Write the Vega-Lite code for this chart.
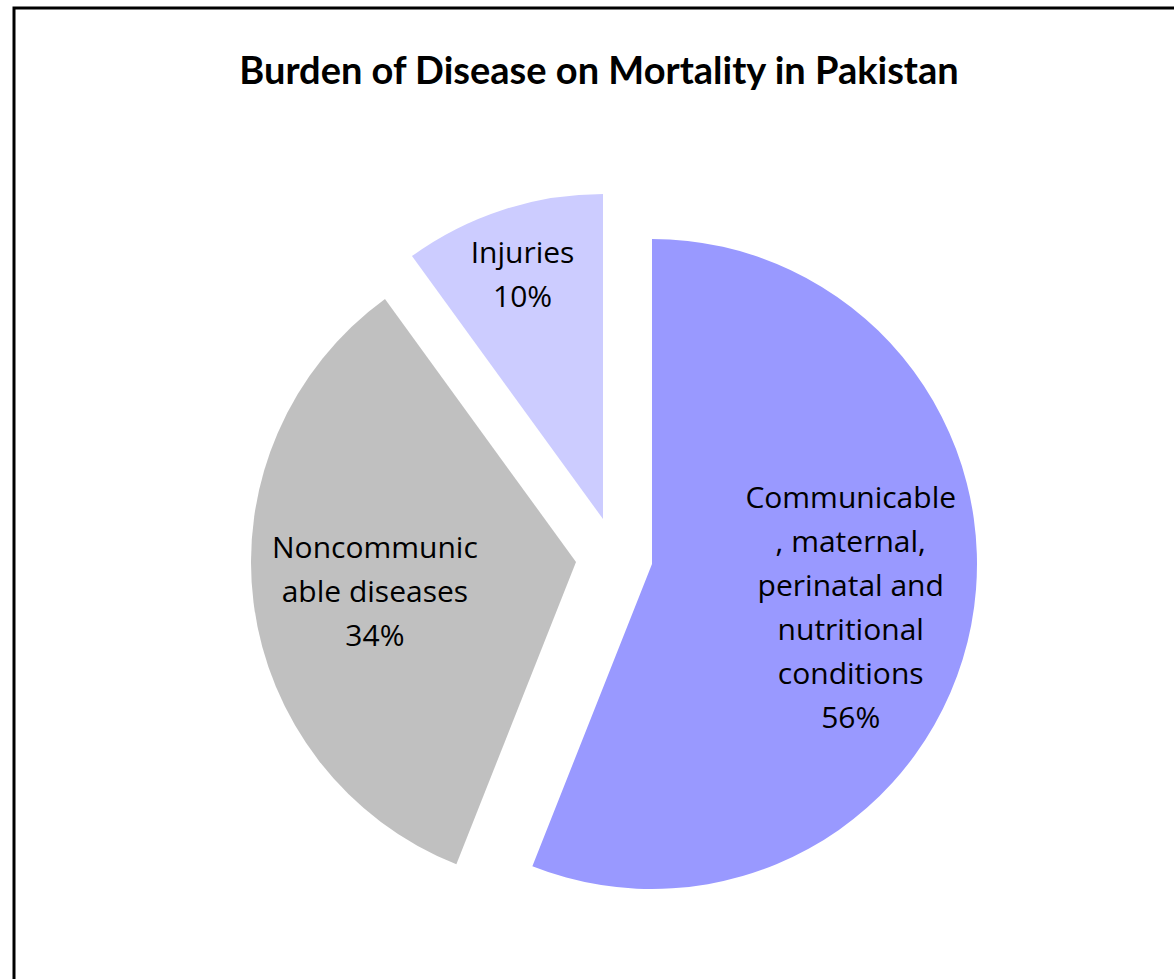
{
  "$schema": "https://vega.github.io/schema/vega-lite/v6.json",
  "width": 1200,
  "height": 1098,
  "autosize": {"type": "none"},
  "padding": {"left": 14, "top": 8, "right": -40, "bottom": -127},
  "view": {"stroke": "#000000", "strokeWidth": 3},
  "title": {
    "text": "Burden of Disease on Mortality in Pakistan",
    "orient": "top",
    "anchor": "middle",
    "frame": "group",
    "dx": -15,
    "offset": -114,
    "baseline": "alphabetic",
    "font": "Lato",
    "fontSize": 38,
    "fontWeight": "bold",
    "color": "#000000"
  },
  "data": {
    "values": [
      {"category": "Communicable, maternal, perinatal and nutritional conditions", "value": 56, "label": "Communicable\n, maternal,\nperinatal and\nnutritional\nconditions\n56%"},
      {"category": "Noncommunicable diseases", "value": 34, "label": "Noncommunic\nable diseases\n34%"},
      {"category": "Injuries", "value": 10, "label": "Injuries\n10%"}
    ]
  },
  "transform": [
    {"stack": "value", "groupby": [], "sort": [{"field": "value", "order": "descending"}], "as": ["t0", "t1"]},
    {"calculate": "(datum.t0 + datum.t1) / 2", "as": "mid"}
  ],
  "layer": [
    {
      "transform": [{"filter": "datum.category === 'Communicable, maternal, perinatal and nutritional conditions'"}],
      "mark": {"type": "arc", "outerRadius": 325, "xOffset": 38, "yOffset": 7, "stroke": null},
      "encoding": {
        "theta": {"field": "t0", "type": "quantitative", "scale": {"domain": [0, 100], "range": [0, 6.283185307179586]}},
        "theta2": {"field": "t1"},
        "color": {"field": "category", "type": "nominal", "legend": null,
          "scale": {"domain": ["Communicable, maternal, perinatal and nutritional conditions", "Noncommunicable diseases", "Injuries"], "range": ["#9999FF", "#C0C0C0", "#CCCCFF"]}}
      }
    },
    {
      "transform": [{"filter": "datum.category === 'Noncommunicable diseases'"}],
      "mark": {"type": "arc", "outerRadius": 325, "xOffset": -38, "yOffset": 5, "stroke": null},
      "encoding": {
        "theta": {"field": "t0", "type": "quantitative"},
        "theta2": {"field": "t1"},
        "color": {"field": "category", "type": "nominal", "legend": null}
      }
    },
    {
      "transform": [{"filter": "datum.category === 'Injuries'"}],
      "mark": {"type": "arc", "outerRadius": 325, "xOffset": -11, "yOffset": -38, "stroke": null},
      "encoding": {
        "theta": {"field": "t0", "type": "quantitative"},
        "theta2": {"field": "t1"},
        "color": {"field": "category", "type": "nominal", "legend": null}
      }
    },
    {
      "transform": [{"filter": "datum.category === 'Communicable, maternal, perinatal and nutritional conditions'"}],
      "mark": {"type": "text", "radius": 241, "dy": -103, "lineBreak": "\n", "lineHeight": 44, "align": "center", "baseline": "middle", "font": "Open Sans", "fontSize": 30, "color": "#000000"},
      "encoding": {
        "theta": {"field": "mid", "type": "quantitative"},
        "text": {"field": "label"}
      }
    },
    {
      "transform": [{"filter": "datum.category === 'Noncommunicable diseases'"}],
      "mark": {"type": "text", "radius": 241, "dy": -38, "lineBreak": "\n", "lineHeight": 44, "align": "center", "baseline": "middle", "font": "Open Sans", "fontSize": 30, "color": "#000000"},
      "encoding": {
        "theta": {"field": "mid", "type": "quantitative"},
        "text": {"field": "label"}
      }
    },
    {
      "transform": [{"filter": "datum.category === 'Injuries'"}],
      "mark": {"type": "text", "radius": 296, "dy": -21, "lineBreak": "\n", "lineHeight": 44, "align": "center", "baseline": "middle", "font": "Open Sans", "fontSize": 30, "color": "#000000"},
      "encoding": {
        "theta": {"field": "mid", "type": "quantitative"},
        "text": {"field": "label"}
      }
    }
  ],
  "config": {
    "view": {"stroke": "#000000", "strokeWidth": 3},
    "background": "#FFFFFF"
  }
}
